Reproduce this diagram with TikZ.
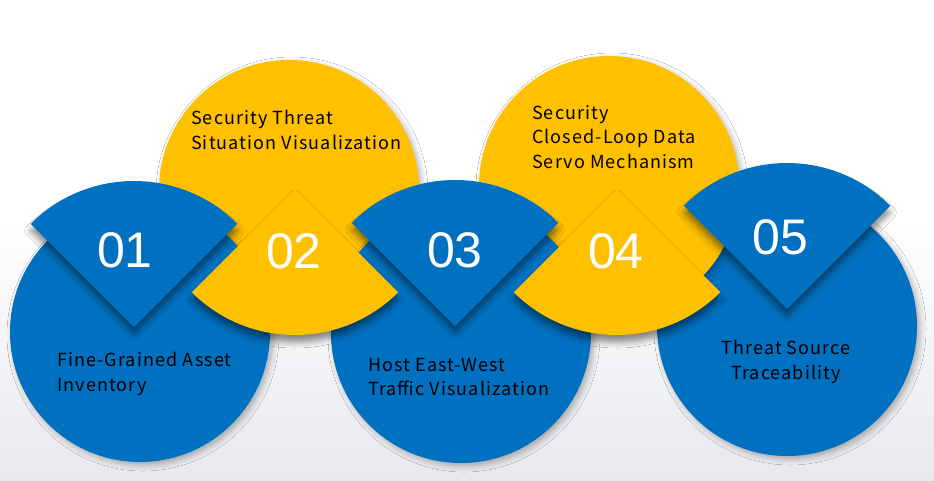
\documentclass[tikz,border=0pt]{standalone}
\usepackage{fontspec}
\setmainfont{Noto Sans CJK SC}[LetterSpace=6]
\newfontfamily\numfont{Liberation Sans}
\usetikzlibrary{positioning,shadows.blur}
\definecolor{infoblue}{RGB}{0,112,192}
\definecolor{infoyellow}{RGB}{255,192,0}
\definecolor{paperlow}{RGB}{232,233,238}

\tikzset{
  disc/.style={circle,minimum size=260pt,inner sep=0pt,
    blur shadow={shadow xshift=3pt,shadow yshift=-3pt,shadow blur radius=6pt,shadow opacity=30}},
  fan/.style={blur shadow={shadow xshift=0pt,shadow yshift=-7pt,shadow blur radius=6pt,shadow opacity=45}},
  numtext/.style={inner sep=0pt,text=white,font=\numfont\fontsize{50}{50}\selectfont},
  captext/.style={inner sep=0pt,text=black,font=\fontsize{18}{24.5}\selectfont,align=left,anchor=north west}
}

\begin{document}
\begin{tikzpicture}[x=1pt,y=-1pt]
  \useasboundingbox (0,0) rectangle (934,480);
  \fill[white] (0,0) rectangle (934,480);
  \shade[top color=white,bottom color=paperlow] (0,220) rectangle (934,480);

  % circles, back to front
  \node[disc,fill=infoyellow] (c02) at (289,190) {};
  \node[disc,fill=infoblue] (c05) at (787,326) {};
  \node[disc,fill=infoyellow] (c04) at (609,186) {};
  \node[disc,fill=infoblue] (c01) at (140,332) {};
  \node[disc,fill=infoblue] (c03) at (461,333) {};

  % fans carrying the numbers
  \foreach \px/\py/\sa/\col in {134/327/225/infoblue,295/189/45/infoyellow,
      455/326/225/infoblue,617/189/45/infoyellow,787/309/225/infoblue}
    \fill[fan,\col] (\px,\py) -- ++(\sa:146) arc[start angle=\sa,delta angle=90,radius=146] -- cycle;

  \node[numtext] (n01) at (125,250) {01};
  \node[numtext] (n02) at (294,251) {02};
  \node[numtext] (n03) at (455,250) {03};
  \node[numtext] (n04) at (616,251) {04};
  \node[numtext] (n05) at (780,237) {05};

  \node[captext] (t01) at (57,352) {Fine-Grained Asset\\Inventory};
  \node[captext] (t02) at (191,110) {Security Threat\\Situation Visualization};
  \node[captext] (t03) at (368,358) {Host East-West\\Traffic Visualization};
  \node[captext] (t04) at (532,105) {Security\\Closed-Loop Data\\Servo Mechanism};
  \node[captext,anchor=north,align=center] (t05) at (786,340) {Threat Source\\Traceability};
\end{tikzpicture}
\end{document}
